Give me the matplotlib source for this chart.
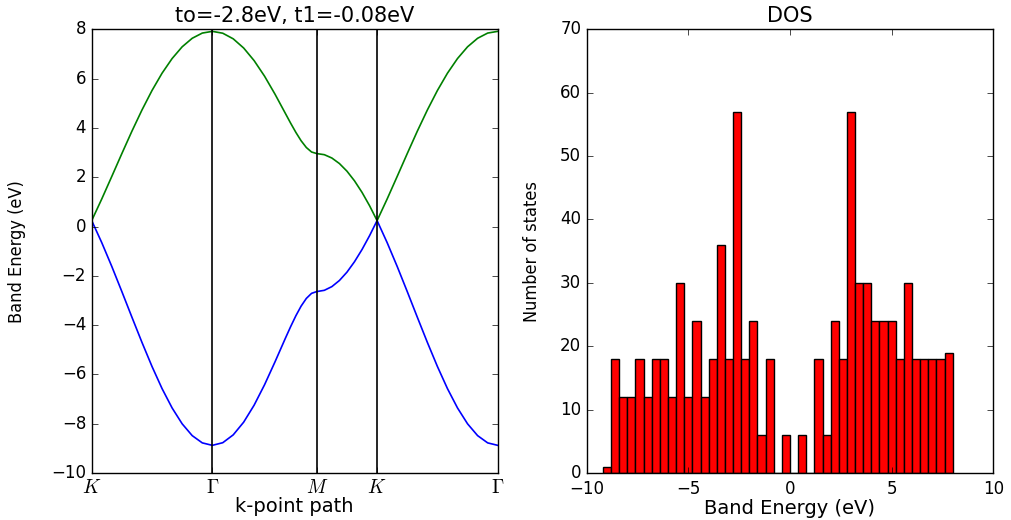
import matplotlib
matplotlib.use('Agg')
import matplotlib.pyplot as plt
import numpy as np

plt.style.use('classic')
plt.rcParams.update({
    'font.size': 12,
    'figure.facecolor': 'white',
})

# high-symmetry points along the k-path (distance in units of |Gamma-K|)
kpath_ticks = [0.0, 1.0, 1.866, 2.366, 3.366]
kpath_labels = [r'$K$', r'$\Gamma$', r'$M$', r'$K$', r'$\Gamma$']

# K -> Gamma segment (local distance from K)
kg_k = [0.0, 0.0833, 0.1667, 0.25, 0.3333, 0.4167, 0.5, 0.5833, 0.6667,
        0.75, 0.8333, 0.9167, 1.0]
kg_upper = [0.24, 1.117, 2.034, 2.96, 3.867, 4.728, 5.52, 6.222, 6.817,
            7.293, 7.639, 7.850, 7.92]
kg_lower = [0.24, -0.653, -1.622, -2.64, -3.678, -4.702, -5.68, -6.578,
            -7.363, -8.007, -8.486, -8.780, -8.88]

# Gamma -> M segment
gm_k = [0.0, 0.0866, 0.1732, 0.2598, 0.3464, 0.433, 0.5196, 0.6062, 0.6495,
        0.6928, 0.7361, 0.7794, 0.8227, 0.866]
gm_upper = [7.92, 7.844, 7.617, 7.244, 6.733, 6.101, 5.371, 4.585, 4.192,
            3.818, 3.480, 3.206, 3.024, 2.96]
gm_lower = [-8.88, -8.773, -8.455, -7.940, -7.251, -6.421, -5.493, -4.529,
            -4.060, -3.620, -3.230, -2.918, -2.712, -2.64]

# M -> K segment
mk_k = [0.0, 0.0625, 0.125, 0.1875, 0.25, 0.3125, 0.375, 0.4375, 0.5]
mk_upper = [2.96, 2.915, 2.780, 2.556, 2.247, 1.855, 1.386, 0.845, 0.24]
mk_lower = [-2.64, -2.589, -2.439, -2.191, -1.853, -1.430, -0.934, -0.373, 0.24]

# density of states histogram
dos_edges = [-9.2 + 0.4 * i for i in range(44)]
dos_counts = [1, 18, 12, 12, 18, 12, 18, 18, 12, 30, 12, 24, 12, 18, 36, 18,
              57, 18, 24, 6, 18, 0, 6, 0, 6, 0, 18, 6, 24, 18, 57, 30, 30, 24,
              24, 24, 18, 30, 18, 18, 18, 18, 19]

LABEL_FONT = dict(family='DejaVu Sans', stretch='condensed', fontsize=13)


def _path(segments):
    xs, ys = [], []
    for start, ks, vals in segments:
        xs.extend(start + k for k in ks)
        ys.extend(vals)
    return xs, ys


fig = plt.figure(figsize=(10.11, 5.2), dpi=100)
ax1 = fig.add_axes([0.0907, 0.0905, 0.4016, 0.8530])
ax2 = fig.add_axes([0.5803, 0.0905, 0.4022, 0.8530])

up_x, up_y = _path([(kpath_ticks[0], kg_k, kg_upper),
                    (kpath_ticks[1], gm_k, gm_upper),
                    (kpath_ticks[2], mk_k, mk_upper),
                    (kpath_ticks[3], kg_k, kg_upper)])
lo_x, lo_y = _path([(kpath_ticks[0], kg_k, kg_lower),
                    (kpath_ticks[1], gm_k, gm_lower),
                    (kpath_ticks[2], mk_k, mk_lower),
                    (kpath_ticks[3], kg_k, kg_lower)])

ax1.plot(lo_x, lo_y, color='b', linewidth=1.2)
ax1.plot(up_x, up_y, color='g', linewidth=1.2)
for xv in kpath_ticks[1:-1]:
    ax1.axvline(xv, color='k', linewidth=1.2)
ax1.set_xlim(kpath_ticks[0], kpath_ticks[-1])
ax1.set_ylim(-10, 8)
ax1.set_xticks(kpath_ticks)
ax1.set_xticklabels(kpath_labels, fontsize=14)
ax1.set_xlabel('k-point path', fontsize=14, labelpad=0)
ax1.set_ylabel('Band Energy (eV)', **LABEL_FONT)
ax1.yaxis.set_label_coords(-0.163, 0.5)
ax1.set_title('to=-2.8eV, t1=-0.08eV', fontsize=15)

widths = np.diff(dos_edges)
ax2.bar(dos_edges[:-1], dos_counts, width=widths, align='edge',
        color='red', edgecolor='black', linewidth=1.0)
ax2.set_xlim(-10, 10)
ax2.set_ylim(0, 70)
ax2.tick_params(axis='x', pad=5)
ax2.set_xlabel('Band Energy (eV)', fontsize=14, labelpad=1)
ax2.set_ylabel('Number of states', **LABEL_FONT)
ax2.yaxis.set_label_coords(-0.113, 0.5)
ax2.set_title('DOS', fontsize=15)

fig.savefig('out.png', dpi=100)
plt.close(fig)
